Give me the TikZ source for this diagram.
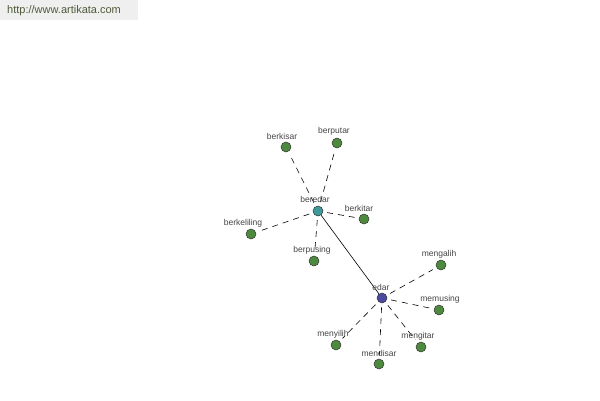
\documentclass[tikz,border=0pt]{standalone}
\usepackage{fontspec}
\setmainfont{Liberation Sans}
\definecolor{leaf}{HTML}{4E8A3E}
\definecolor{hub}{HTML}{3E9A9A}
\definecolor{root}{HTML}{4A4A9E}
\definecolor{hdr}{HTML}{EFEFEF}
\definecolor{hdrtxt}{HTML}{4F5B3A}
\definecolor{lbl}{HTML}{444444}
\begin{document}
\begin{tikzpicture}[x=1pt,y=-1pt,
  dot/.style={circle,draw=black!80,line width=0.5pt,minimum size=10pt,inner sep=0pt},
  leafdot/.style={dot,fill=leaf},
  lab/.style={font=\fontsize{8.5}{9}\selectfont,text=lbl,inner sep=0pt},
  syn/.style={dashed,dash pattern=on 6pt off 5pt,line width=0.6pt,shorten <=4pt,shorten >=4pt},
  link/.style={line width=0.6pt}]
\useasboundingbox (0,0) rectangle (600,400);
\fill[hdr] (0,0) rectangle (138,20);
\node[font=\fontsize{11}{12}\selectfont,text=hdrtxt,anchor=west,inner sep=0pt] (hdrtext) at (7,11) {http://www.artikata.com};

\node[dot,fill=hub] (beredar) at (318,211) {};
\node[dot,fill=root] (edar) at (382,298) {};
\node[leafdot] (berkisar) at (286,147) {};
\node[leafdot] (berputar) at (337,143) {};
\node[leafdot] (berkitar) at (364,219) {};
\node[leafdot] (berkeliling) at (251,234) {};
\node[leafdot] (berpusing) at (314,261) {};
\node[leafdot] (mengalih) at (441,265) {};
\node[leafdot] (memusing) at (439,310) {};
\node[leafdot] (mengitar) at (421,347) {};
\node[leafdot] (mendisar) at (379,364) {};
\node[leafdot] (menyilih) at (336,345) {};

\draw[link] (beredar) -- (edar);
\foreach \n in {berkisar,berputar,berkitar,berkeliling,berpusing}
  \draw[syn] (beredar) -- (\n);
\foreach \n in {mengalih,memusing,mengitar,mendisar,menyilih}
  \draw[syn] (edar) -- (\n);

\node[lab] (l1) at (315,199) {beredar};
\node[lab] (l2) at (381,287) {edar};
\node[lab] (l3) at (282,136) {berkisar};
\node[lab] (l4) at (334,131) {berputar};
\node[lab] (l5) at (359,208) {berkitar};
\node[lab] (l6) at (243,223) {berkeliling};
\node[lab] (l7) at (312,250) {berpusing};
\node[lab] (l8) at (439,254) {mengalih};
\node[lab] (l9) at (440,299) {memusing};
\node[lab] (l10) at (418,336) {mengitar};
\node[lab] (l11) at (379,353) {mendisar};
\node[lab] (l12) at (333,334) {menyilih};
\end{tikzpicture}
\end{document}
